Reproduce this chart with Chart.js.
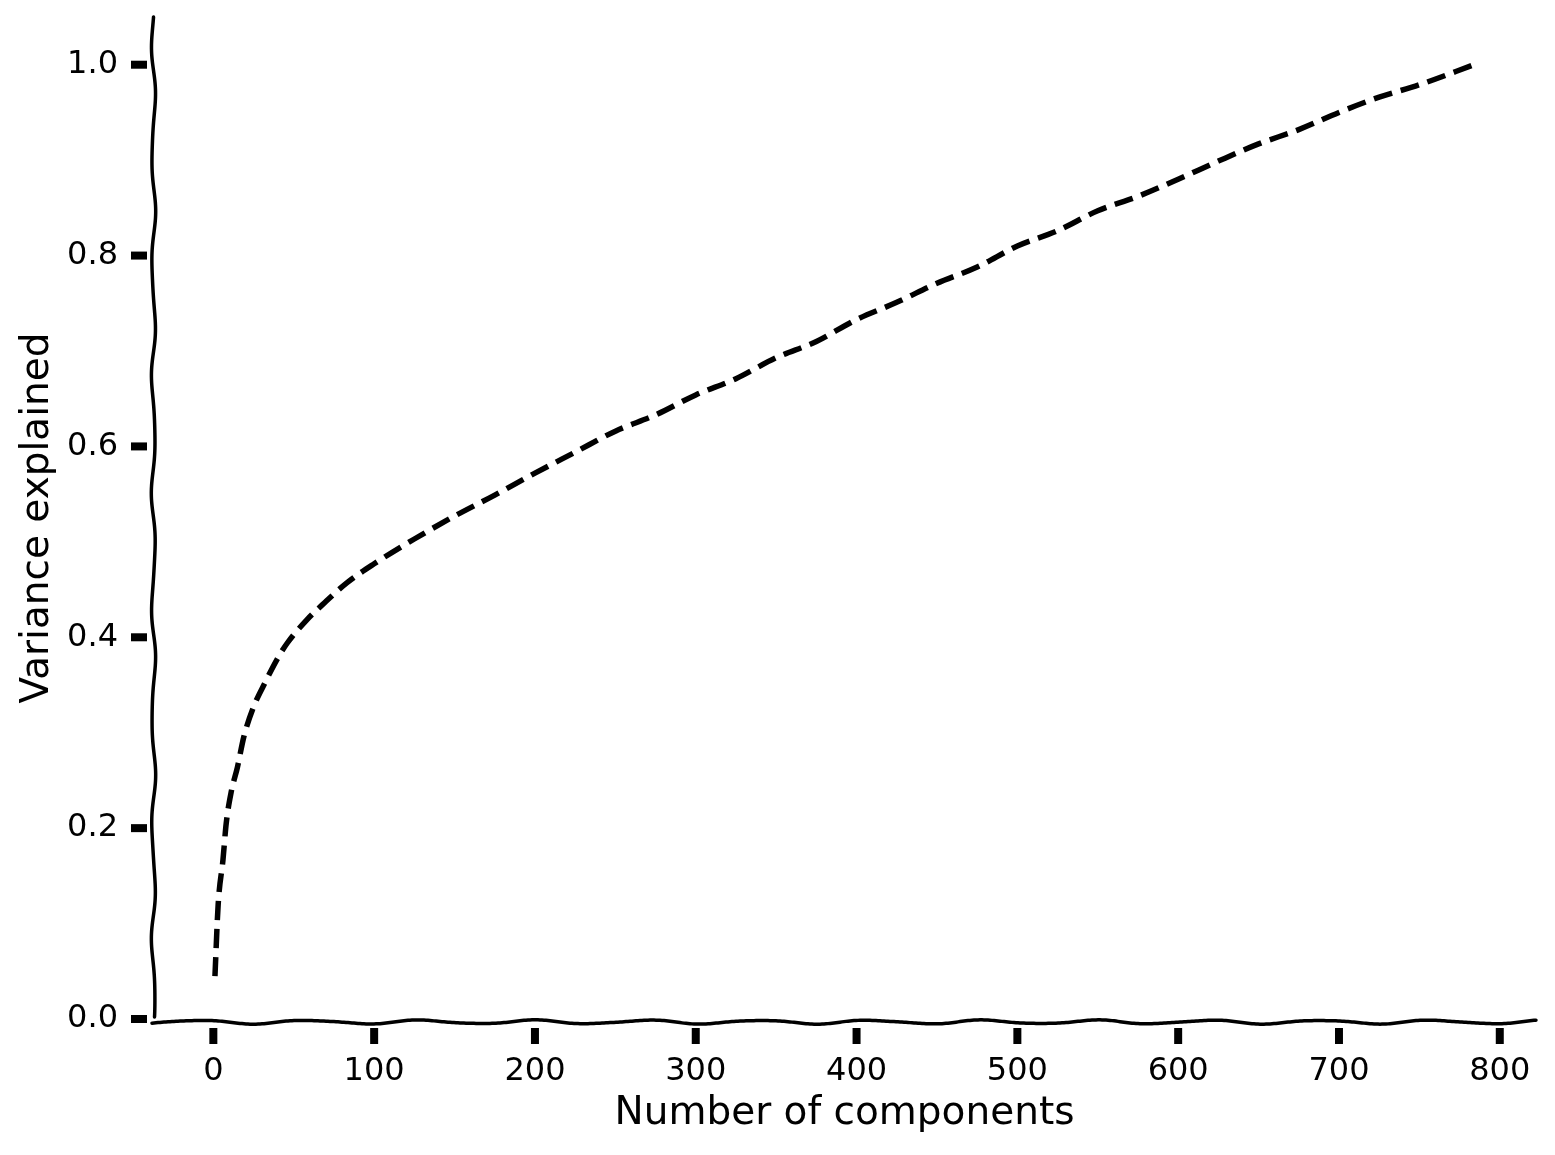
<!DOCTYPE html>
<html>
<head>
<meta charset="utf-8">
<script src="https://cdn.jsdelivr.net/npm/chart.js@4.4.1/dist/chart.umd.min.js"></script>
<style>
  html, body { margin: 0; padding: 0; background: #fff; }
  #wrap { width: 1555px; height: 1155px; }
</style>
</head>
<body>
<div id="wrap"><canvas id="chart"></canvas></div>
<script>
'use strict';

// cumulative variance explained vs. number of PCA components
const components = [1, 3, 6, 8, 11, 15, 19, 25, 32, 40, 46, 58, 69, 83, 100, 125, 150, 175, 200,
  225, 250, 275, 300, 325, 350, 375, 400, 425, 450, 475, 500, 525, 550, 575, 600, 625, 650, 675,
  700, 725, 750, 784];
const varianceExplained = [0.045, 0.12, 0.167, 0.205, 0.237, 0.264, 0.296, 0.327, 0.352, 0.378,
  0.394, 0.418, 0.436, 0.457, 0.477, 0.503, 0.527, 0.549, 0.572, 0.594, 0.616, 0.633, 0.654,
  0.671, 0.693, 0.710, 0.733, 0.751, 0.771, 0.788, 0.810, 0.826, 0.847, 0.862, 0.880, 0.899,
  0.917, 0.932, 0.950, 0.966, 0.979, 1.0];

const xTicks = [0, 100, 200, 300, 400, 500, 600, 700, 800];
const yTicks = [0, 0.2, 0.4, 0.6, 0.8, 1.0];

const FONT = "'DejaVu Sans', sans-serif";

// small hand-drawn wobble for the axis lines
function wobble(t) {
  return 1.8 * Math.sin(t / 17) + 0.4 * Math.sin(t / 9.5 + 1.3);
}

const xkcdAxes = {
  id: 'xkcdAxes',
  afterDraw(chart) {
    const ctx = chart.ctx;
    const area = chart.chartArea;
    const xs = chart.scales.x;
    const ys = chart.scales.y;
    ctx.save();
    ctx.strokeStyle = '#000';
    ctx.lineWidth = 3.5;
    ctx.lineCap = 'round';

    // left spine
    const ax = area.left + 1.5;
    ctx.beginPath();
    for (let y = area.top; y <= area.bottom - 2; y += 2) {
      const px = ax + wobble(y * 0.95 + 40);
      if (y === area.top) ctx.moveTo(px, y); else ctx.lineTo(px, y);
    }
    ctx.stroke();

    // bottom spine
    const ay = area.bottom + 3;
    ctx.beginPath();
    for (let x = area.left; x <= area.right; x += 2) {
      const py = ay + wobble(x * 0.95);
      if (x === area.left) ctx.moveTo(x, py); else ctx.lineTo(x, py);
    }
    ctx.stroke();

    // tick marks
    ctx.lineCap = 'butt';
    ctx.lineWidth = 8;
    ys.ticks.forEach(function(t) {
      const py = ys.getPixelForValue(t.value);
      ctx.beginPath();
      ctx.moveTo(area.left - 21, py);
      ctx.lineTo(area.left - 5, py);
      ctx.stroke();
    });
    xs.ticks.forEach(function(t) {
      const px = xs.getPixelForValue(t.value);
      ctx.beginPath();
      ctx.moveTo(px, area.bottom + 9);
      ctx.lineTo(px, area.bottom + 25);
      ctx.stroke();
    });
    ctx.restore();
  }
};

const points = components.map(function(c, i) { return { x: c, y: varianceExplained[i] }; });

new Chart(document.getElementById('chart'), {
  type: 'line',
  data: {
    datasets: [{
      data: points,
      borderColor: '#000',
      borderWidth: 5.5,
      borderDash: [19, 9],
      pointRadius: 0,
      fill: false,
      cubicInterpolationMode: 'monotone'
    }]
  },
  options: {
    responsive: true,
    maintainAspectRatio: false,
    animation: false,
    layout: { padding: { top: 17, right: 18, left: 0, bottom: 0 } },
    plugins: { legend: { display: false }, tooltip: { enabled: false } },
    scales: {
      x: {
        type: 'linear',
        min: -38.15,
        max: 823.15,
        afterBuildTicks: function(s) { s.ticks = xTicks.map(function(v) { return { value: v }; }); },
        afterFit: function(s) { s.height = 136; s.paddingLeft = 0; s.paddingRight = 0; },
        grid: { display: false, drawTicks: false },
        border: { display: false },
        ticks: { color: '#000', font: { family: FONT, size: 32 }, padding: 33, maxRotation: 0 },
        title: { display: true, text: 'Number of components', color: '#000', font: { family: FONT, size: 39 }, padding: { top: 4, bottom: 18 } }
      },
      y: {
        min: 0,
        max: 1.05,
        afterBuildTicks: function(s) { s.ticks = yTicks.map(function(v) { return { value: v }; }); },
        afterFit: function(s) { s.width = 152; s.paddingTop = 0; s.paddingBottom = 0; },
        grid: { display: false, drawTicks: false },
        border: { display: false },
        ticks: { color: '#000', font: { family: FONT, size: 32 }, padding: 34,
          callback: function(v) { return v.toFixed(1); } },
        title: { display: true, text: 'Variance explained', color: '#000', font: { family: FONT, size: 39 }, padding: { top: 14, bottom: 4 } }
      }
    }
  },
  plugins: [xkcdAxes]
});
</script>
</body>
</html>
